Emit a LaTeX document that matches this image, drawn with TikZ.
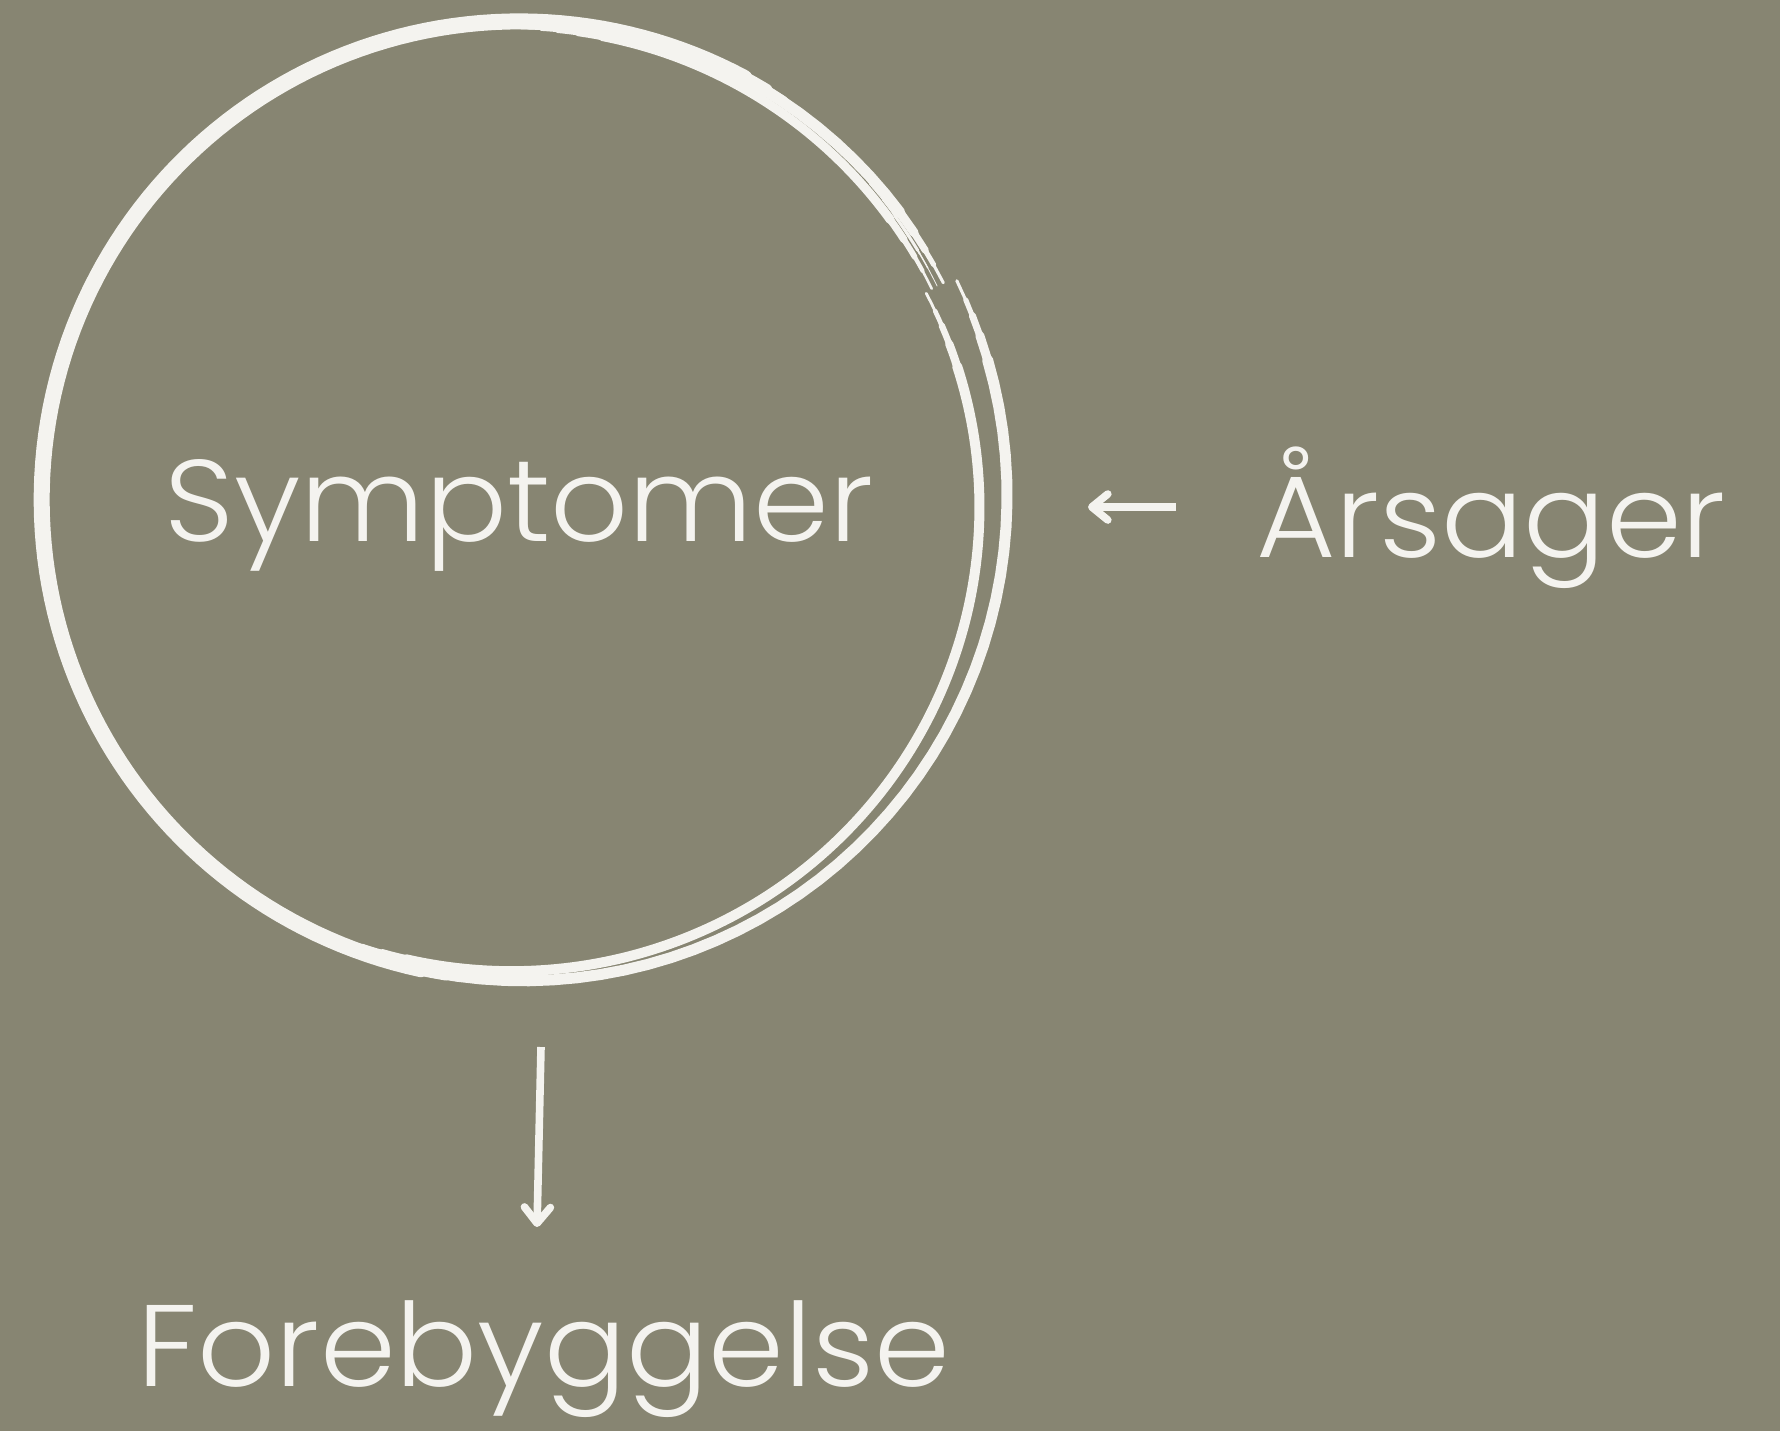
\documentclass[tikz,border=0pt]{standalone}
\usepackage{fontspec}
\setmainfont{Poppins Light}[FakeStretch=1.05]
\usetikzlibrary{arrows.meta}

\definecolor{bgolive}{HTML}{878572}
\definecolor{chalk}{HTML}{F4F3EF}

% one brush stroke along the ring, thinned towards both ends
% #1 width, #2/#3 start/end angle, #4/#5 start/end radius
\newcommand{\ringstroke}[5]{%
  \foreach \w/\d in {1/10, 0.82/7, 0.64/4.5, 0.46/2.5, 0.28/0}{
    \pgfmathsetmacro\ta{#2+\d}
    \pgfmathsetmacro\tb{#3-\d}
    \draw[brush, line width=\w*#1] plot[domain=\ta:\tb, samples=120]
      ({521+(#4+(#5-#4)*(\x-(#2))/((#3)-(#2)))*cos(\x)},
       {498+(#4+(#5-#4)*(\x-(#2))/((#3)-(#2)))*sin(\x)});
  }}

\begin{document}
\begin{tikzpicture}[x=0.5pt, y=-0.5pt,
    brush/.style={chalk, line cap=round, line join=round},
    word/.style={chalk, font=\fontsize{58}{60}\selectfont, inner sep=0pt, anchor=base},
    pointer/.style={chalk, line width=3.8pt, -{Straight Barb[length=8pt, width=13pt, round]}}]

  % ==================== background ====================
  \fill[bgolive] (0,0) rectangle (1780,1431);
  \useasboundingbox (0,0) rectangle (1780,1431);

  % ==================== hand-drawn ring ====================
  % outer loop, from the gap at the top right all the way round
  \ringstroke{5.5pt}{-26.5}{333}{487}{474}
  % heavier part on the left and top
  \ringstroke{8pt}{92}{308}{482}{475.5}
  % inner loop on the right, running out at the bottom left
  \ringstroke{5pt}{-26.8}{114}{454}{477}
  % inner line along the top
  \ringstroke{4.5pt}{270}{333}{470}{461}
  % splinter between the two top lines
  \ringstroke{1.5pt}{318}{333}{469}{467}

  % ==================== labels ====================
  \node[word] (symptomer) at (519,541) {Symptomer};
  \node[word] (aarsager) at (1491,557) {Årsager};
  \node[word] (forebyggelse) at (544,1386) {Forebyggelse};

  % ==================== arrows ====================
  \coordinate (causeTail) at (1176,507);
  \coordinate (causeTip) at (1088,507);
  \coordinate (preventTail) at (541,1047);
  \coordinate (preventTip) at (537,1227);
  \draw[pointer] (causeTail) -- (causeTip);
  \draw[pointer] (preventTail) -- (preventTip);
\end{tikzpicture}
\end{document}
